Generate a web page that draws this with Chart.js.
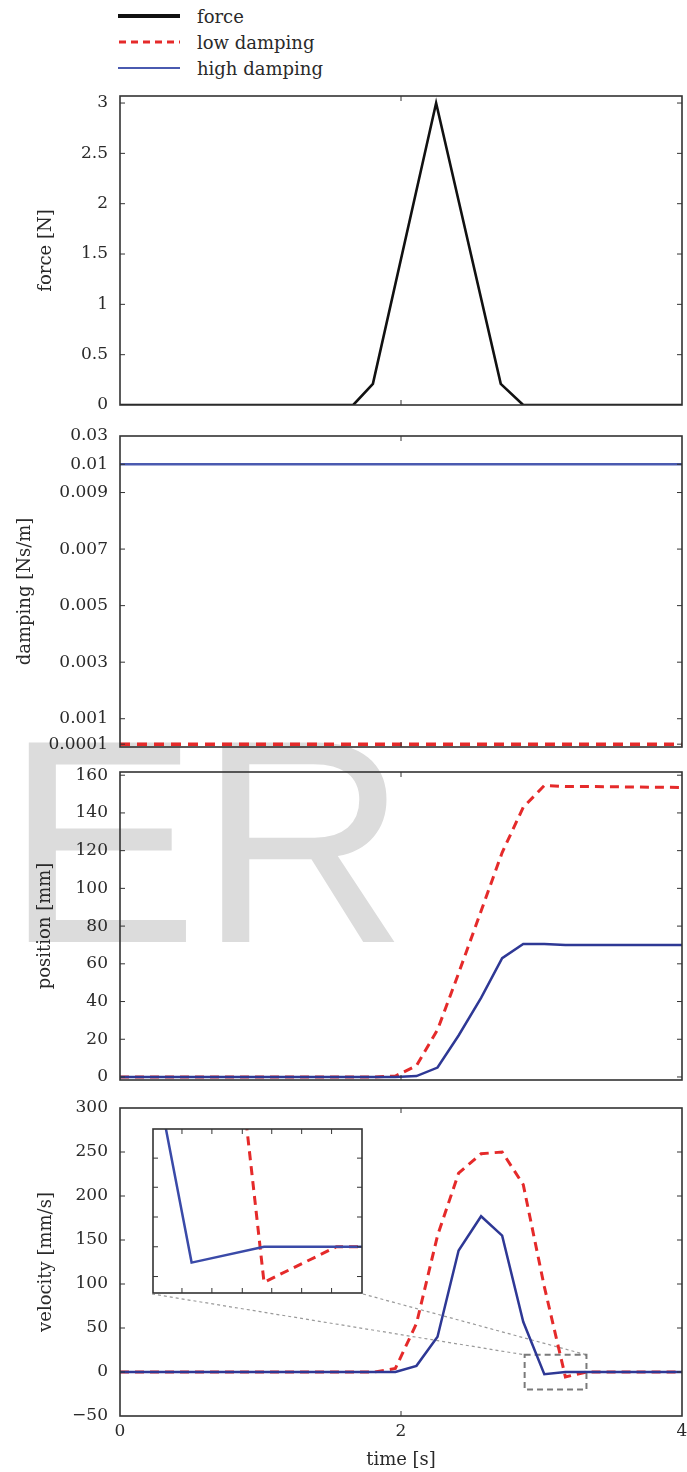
<!DOCTYPE html>
<html>
<head>
<meta charset="utf-8">
<script src="https://cdn.jsdelivr.net/npm/chart.js@4.4.0/dist/chart.umd.min.js"></script>
<style>
  body { margin: 0; background: #fff; width: 687px; height: 1472px; position: relative; overflow: hidden;
         font-family: "DejaVu Serif", serif; color: #2a2a2a; }
  #watermark { position: absolute; left: 5px; top: 696px; font: 290px/1 "Liberation Sans", sans-serif;
               color: #dcdcdc; white-space: nowrap; z-index: 0; }
  .panel { position: absolute; left: 0; width: 687px; z-index: 1; }
  .legend-row { position: absolute; left: 118px; height: 26px; display: flex; align-items: center; font-size: 18px; z-index: 2; }
  .legend-row svg { width: 62px; height: 8px; margin-right: 17px; }
  #insetWrap { position: absolute; left: 152px; top: 1128px; width: 211px; height: 166px; background: #fff; z-index: 3; }
</style>
</head>
<body>
<div id="watermark">ER</div>

<div class="legend-row" style="top:3px">
  <svg viewBox="0 0 62 8"><line x1="0" y1="4" x2="62" y2="4" stroke="#111" stroke-width="4"/></svg>force
</div>
<div class="legend-row" style="top:29px">
  <svg viewBox="0 0 62 8"><line x1="1" y1="4" x2="62" y2="4" stroke="#e52a2a" stroke-width="3" stroke-dasharray="7 5"/></svg>low damping
</div>
<div class="legend-row" style="top:55px">
  <svg viewBox="0 0 62 8"><line x1="0" y1="4" x2="62" y2="4" stroke="#4a5ab0" stroke-width="2"/></svg>high damping
</div>

<div class="panel" style="top:86px;height:323px"><canvas id="forceChart"></canvas></div>
<div class="panel" style="top:426px;height:325px"><canvas id="dampChart"></canvas></div>
<div class="panel" style="top:762px;height:322px"><canvas id="posChart"></canvas></div>
<div class="panel" style="top:1098px;height:374px"><canvas id="velChart"></canvas></div>
<div id="insetWrap"><canvas id="insetChart"></canvas></div>

<script>
// ---- data ----
const timeTicks = [0, 2, 4];
const timeLabels = ['0', '2', '4'];

// force input
const forceTime = [0, 1.66, 1.80, 2.25, 2.71, 2.87, 4];
const forceVals = [0, 0, 0.21, 3.0, 0.21, 0, 0];
const forceTicks = [0, 0.5, 1, 1.5, 2, 2.5, 3];
const forceLabels = ['0', '0.5', '1', '1.5', '2', '2.5', '3'];

// damping settings
const dampTime = [0, 4];
const dampLow = [0.0001, 0.0001];
const dampHigh = [0.01, 0.01];
const dampTicks = [0.0001, 0.001, 0.003, 0.005, 0.007, 0.009, 0.01, 0.011];
const dampLabels = ['0.0001', '0.001', '0.003', '0.005', '0.007', '0.009', '0.01', '0.03'];

// response (shared sample times)
const simTime = [0, 1.81, 1.96, 2.11, 2.26, 2.41, 2.57, 2.72, 2.87, 3.02, 3.17, 3.32, 4];
const posLow  = [0, 0, 0.5, 6, 25, 55, 88, 119, 143, 154.5, 154, 154, 153.5];
const posHigh = [0, 0, 0, 0.5, 5, 22, 42, 63, 70.5, 70.5, 70, 70, 70];
const velLow  = [0, 0, 4, 55, 155, 226, 248, 250, 213, 97, -5.6, 0, 0];
const velHigh = [0, 0, 0, 7, 40, 138, 177, 155, 57, -2.5, 0, 0, 0];

const posTicks = [0, 20, 40, 60, 80, 100, 120, 140, 160];
const posLabels = ['0', '20', '40', '60', '80', '100', '120', '140', '160'];
const velTicks = [-50, 0, 50, 100, 150, 200, 250, 300];
const velLabels = ['\u221250', '0', '50', '100', '150', '200', '250', '300'];

// zoomed region shown in the inset
const zoomTime = [2.88, 3.32];
const zoomVel = [-20, 19.5];
const insetTime = [2.94, 3.373];
const insetVel = [-7.3, 18.6];
const insetTimeTicks = [3.0, 3.062, 3.125, 3.186, 3.248, 3.31];
const insetVelTicks = [-4.7, 0, 4.7, 9.4, 14];

const RED = '#e52a2a';
const BLUE = '#2e3895';
const BLUE_LIGHT = '#4a5ab0';
const TEXT = '#2a2a2a';
const tickFont = { family: 'DejaVu Serif', size: 17 };
const titleFont = { family: 'DejaVu Serif', size: 18 };

const pts = (xs, ys) => xs.map((x, i) => ({ x: x, y: ys[i] }));

// box frame with small inward tick marks
const frameTicks = {
    id: 'frameTicks',
    afterDatasetsDraw(chart, args, opts) {
        const { ctx, chartArea: a, scales } = chart;
        const len = opts.len || 5;
        ctx.save();
        ctx.strokeStyle = opts.color || '#333';
        ctx.lineWidth = 1;
        ctx.beginPath();
        scales.x.ticks.forEach(t => {
            const px = scales.x.getPixelForValue(t.value);
            if (px <= a.left + 1 || px >= a.right - 1) return;
            ctx.moveTo(px, a.top); ctx.lineTo(px, a.top + len);
            ctx.moveTo(px, a.bottom); ctx.lineTo(px, a.bottom - len);
        });
        scales.y.ticks.forEach(t => {
            const py = scales.y.getPixelForValue(t.value);
            if (py <= a.top + 1 || py >= a.bottom - 1) return;
            ctx.moveTo(a.left, py); ctx.lineTo(a.left + len, py);
            ctx.moveTo(a.right, py); ctx.lineTo(a.right - len, py);
        });
        ctx.stroke();
        ctx.lineWidth = opts.width || 1.6;
        ctx.strokeRect(a.left, a.top, a.right - a.left, a.bottom - a.top);
        ctx.restore();
    }
};

// dashed box around the zoomed area + dotted connectors to the inset
const zoomGuide = {
    id: 'zoomGuide',
    beforeDatasetsDraw(chart) {
        const { ctx, scales: { x, y } } = chart;
        const x0 = x.getPixelForValue(zoomTime[0]), x1 = x.getPixelForValue(zoomTime[1]);
        const y0 = y.getPixelForValue(zoomVel[1]), y1 = y.getPixelForValue(zoomVel[0]);
        const c = chart.canvas.getBoundingClientRect();
        const r = document.getElementById('insetWrap').getBoundingClientRect();
        const iy = r.bottom - c.top;
        ctx.save();
        ctx.strokeStyle = '#9a9a9a';
        ctx.lineWidth = 1.2;
        ctx.setLineDash([3, 3]);
        ctx.beginPath();
        ctx.moveTo(r.left - c.left, iy); ctx.lineTo(x0, y0);
        ctx.moveTo(r.right - c.left, iy); ctx.lineTo(x1, y0);
        ctx.stroke();
        ctx.strokeStyle = '#7a7a7a';
        ctx.lineWidth = 2;
        ctx.setLineDash([6, 4]);
        ctx.strokeRect(x0, y0, x1 - x0, y1 - y0);
        ctx.restore();
    }
};

function yAxis(min, max, ticks, labels, title, titlePad) {
    return {
        type: 'linear', min: min, max: max,
        afterBuildTicks: s => { s.ticks = ticks.map(v => ({ value: v })); },
        afterFit: s => { s.width = 120; s.paddingTop = 0; s.paddingBottom = 0; },
        grid: { display: false, drawTicks: false },
        border: { display: false },
        ticks: {
            autoSkip: false, padding: 12, color: TEXT, font: tickFont,
            callback: v => labels[ticks.indexOf(v)]
        },
        title: { display: true, text: title, color: TEXT, font: titleFont, padding: { top: titlePad, bottom: 0 } }
    };
}

function xAxis(showLabels) {
    return {
        type: 'linear', min: 0, max: 4,
        afterBuildTicks: s => { s.ticks = timeTicks.map(v => ({ value: v })); },
        afterFit: s => { s.height = showLabels ? 56 : 0; s.paddingLeft = 0; s.paddingRight = 0; },
        grid: { display: false, drawTicks: false },
        border: { display: false },
        ticks: {
            display: showLabels, autoSkip: false, maxRotation: 0, padding: 5, color: TEXT, font: tickFont,
            callback: v => timeLabels[timeTicks.indexOf(v)]
        },
        title: { display: showLabels, text: 'time [s]', color: TEXT, font: titleFont, padding: { top: 0, bottom: 1 } }
    };
}

function makePanel(id, datasets, y, bottomAxis, extraPlugins) {
    return new Chart(document.getElementById(id), {
        type: 'line',
        data: { datasets: datasets },
        options: {
            animation: false, responsive: true, maintainAspectRatio: false,
            layout: { padding: { top: 10, right: 5, bottom: bottomAxis ? 0 : 4, left: 0 } },
            elements: { point: { radius: 0 }, line: { tension: 0 } },
            plugins: { legend: { display: false }, tooltip: { enabled: false } },
            scales: { x: xAxis(bottomAxis), y: y }
        },
        plugins: [frameTicks].concat(extraPlugins || [])
    });
}

const highLine = (xs, ys, color) => ({ data: pts(xs, ys), borderColor: color, borderWidth: 2.5, fill: false });
const lowLine = (xs, ys, dash, w) => ({ data: pts(xs, ys), borderColor: RED, borderWidth: w, borderDash: dash, fill: false });

makePanel('forceChart',
    [{ data: pts(forceTime, forceVals), borderColor: '#111', borderWidth: 2.6, fill: false }],
    yAxis(0, 3.07, forceTicks, forceLabels, 'force [N]', 36), false);

makePanel('dampChart',
    [highLine(dampTime, dampHigh, BLUE_LIGHT), lowLine(dampTime, dampLow, [10, 7], 3.5)],
    yAxis(0, 0.011, dampTicks, dampLabels, 'damping [Ns/m]', 15), false);

makePanel('posChart',
    [highLine(simTime, posHigh, BLUE), lowLine(simTime, posLow, [9, 6], 3)],
    yAxis(-1.6, 161.7, posTicks, posLabels, 'position [mm]', 35), false);

makePanel('velChart',
    [highLine(simTime, velHigh, BLUE), lowLine(simTime, velLow, [9, 6], 3)],
    yAxis(-50, 300, velTicks, velLabels, 'velocity [mm/s]', 36), true, [zoomGuide]);

// inset: same velocity data on a zoomed range
new Chart(document.getElementById('insetChart'), {
    type: 'line',
    data: { datasets: [highLine(simTime, velHigh, '#3a4aa8'), lowLine(simTime, velLow, [9, 6], 3)] },
    options: {
        animation: false, responsive: true, maintainAspectRatio: false,
        layout: { padding: 1 },
        elements: { point: { radius: 0 }, line: { tension: 0 } },
        plugins: { legend: { display: false }, tooltip: { enabled: false } },
        scales: {
            x: {
                type: 'linear', min: insetTime[0], max: insetTime[1],
                afterBuildTicks: s => { s.ticks = insetTimeTicks.map(v => ({ value: v })); },
                afterFit: s => { s.height = 0; },
                ticks: { display: false }, grid: { display: false, drawTicks: false }, border: { display: false }
            },
            y: {
                type: 'linear', min: insetVel[0], max: insetVel[1],
                afterBuildTicks: s => { s.ticks = insetVelTicks.map(v => ({ value: v })); },
                afterFit: s => { s.width = 0; },
                ticks: { display: false }, grid: { display: false, drawTicks: false }, border: { display: false }
            }
        }
    },
    plugins: [frameTicks]
});
</script>
</body>
</html>
